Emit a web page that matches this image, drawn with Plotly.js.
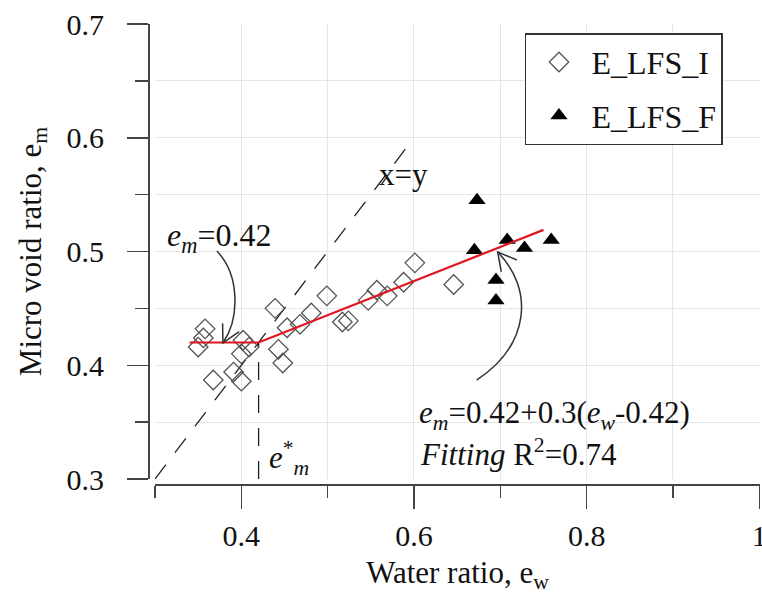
<!DOCTYPE html>
<html>
<head>
<meta charset="utf-8">
<script src="https://cdn.plot.ly/plotly-3.0.1.min.js"></script>
<style>html,body{margin:0;padding:0;background:#fff;}#chart{width:762px;height:604px;}</style>
</head>
<body>
<div id="chart"></div>
<script>
// Data
const lfsI_ew = [0.358, 0.356, 0.350, 0.402, 0.409, 0.400, 0.3675, 0.391, 0.400, 0.439, 0.443, 0.448, 0.453, 0.468, 0.481, 0.499, 0.517, 0.524, 0.547, 0.557, 0.569, 0.588, 0.601, 0.646];
const lfsI_em = [0.432, 0.424, 0.416, 0.422, 0.416, 0.410, 0.387, 0.394, 0.386, 0.450, 0.414, 0.402, 0.433, 0.436, 0.446, 0.461, 0.438, 0.439, 0.457, 0.466, 0.461, 0.473, 0.490, 0.471];
const lfsF_ew = [0.673, 0.670, 0.708, 0.728, 0.759, 0.695, 0.695];
const lfsF_em = [0.545, 0.501, 0.510, 0.503, 0.510, 0.475, 0.457];
const fitX = [0.340, 0.420, 0.750];
const fitY = [0.420, 0.420, 0.519];
const diagX = [0.30, 0.60];
const diagY = [0.30, 0.60];
const emStarX = [0.42, 0.42];
const emStarY = [0.30, 0.42];
const xTickVals = [0.4, 0.6, 0.8, 1];
const xTickText = ['0.4', '0.6', '0.8', '1'];
const yTickVals = [0.3, 0.4, 0.5, 0.6, 0.7];
const yTickText = ['0.3', '0.4', '0.5', '0.6', '0.7'];

const FONT = 'Liberation Serif';
const INK = '#222';

const traces = [
  {x: diagX, y: diagY, mode: 'lines', line: {color: INK, width: 1.3, dash: '18px,15px'}, showlegend: false, hoverinfo: 'skip'},
  {x: emStarX, y: emStarY, mode: 'lines', line: {color: INK, width: 1.3, dash: '18px,15px'}, showlegend: false, hoverinfo: 'skip'},
  {x: lfsI_ew, y: lfsI_em, mode: 'markers', name: 'E_LFS_I', legendgroup: 'a',
   marker: {symbol: 'diamond-open', size: 15, color: '#555', line: {width: 1.3, color: '#555'}}},
  {x: lfsF_ew, y: lfsF_em, mode: 'markers', name: 'E_LFS_F', legendgroup: 'b',
   marker: {symbol: 'triangle-up', size: 15, color: '#000'}},
  {x: fitX, y: fitY, mode: 'lines', line: {color: '#e0141e', width: 2.2}, showlegend: false, hoverinfo: 'skip'}
];

const arrowStyle = {color: '#333', width: 1.5};
const shapes = [
  {type: 'path', xref: 'x', yref: 'y', path: 'M0.3717,0.5004 C0.3983,0.4793 0.3983,0.4415 0.3787,0.4196', line: arrowStyle},
  {type: 'path', xref: 'x', yref: 'y', path: 'M0.3783,0.4369 L0.3787,0.4196 L0.3975,0.4295', line: arrowStyle},
  {type: 'path', xref: 'x', yref: 'y', path: 'M0.6726,0.3870 C0.7339,0.4178 0.7397,0.4662 0.6969,0.4996', line: arrowStyle},
  {type: 'path', xref: 'x', yref: 'y', path: 'M0.7011,0.4822 L0.6969,0.4996 L0.7192,0.4925', line: arrowStyle}
];

const annFont = {family: FONT, size: 31, color: '#111'};
const annotations = [
  {x: 0.588, y: 0.568, xref: 'x', yref: 'y', text: 'x=y', showarrow: false, font: annFont},
  {x: 0.3116, y: 0.5127, xref: 'x', yref: 'y', xanchor: 'left', text: '<i>e</i><sub><i>m</i></sub>=0.42', showarrow: false, font: {family: FONT, size: 32, color: '#111'}},
  {x: 0.455, y: 0.3185, xref: 'x', yref: 'y', text: '<i>e</i><sup>*</sup><sub><i>m</i></sub>', showarrow: false, font: annFont},
  {x: 0.6031, y: 0.3563, xref: 'x', yref: 'y', xanchor: 'left', text: '<i>e</i><sub><i>m</i></sub>=0.42+0.3(<i>e</i><sub><i>w</i></sub>-0.42)', showarrow: false, font: annFont},
  {x: 0.6043, y: 0.3229, xref: 'x', yref: 'y', xanchor: 'left', text: '<i>Fitting</i> R<sup>2</sup>=0.74', showarrow: false, font: annFont}
];

const layout = {
  width: 762, height: 604,
  margin: {l: 148, r: 2, t: 24, b: 120},
  paper_bgcolor: '#fff', plot_bgcolor: '#fff',
  font: {family: FONT, color: '#111', size: 30},
  showlegend: true,
  legend: {x: 0.616, y: 0.98, xanchor: 'left', yanchor: 'top', bgcolor: '#fff',
           bordercolor: '#333', borderwidth: 1.5, font: {family: FONT, size: 32, color: '#111'},
           tracegroupgap: 9, itemwidth: 55},
  xaxis: {
    range: [0.3, 1.0008], domain: [0.01144, 1], anchor: 'free', position: 0,
    showline: true, linecolor: '#444', linewidth: 1.8,
    tickmode: 'array', tickvals: xTickVals, ticktext: xTickText,
    ticks: 'outside', ticklen: 23, tickwidth: 1.5, tickcolor: '#444',
    ticklabelstandoff: 1, ticklabeloverflow: 'allow',
    tickfont: {family: FONT, size: 30, color: '#111'},
    showgrid: true, gridcolor: '#e6e6e6', gridwidth: 1, zeroline: false,
    minor: {dtick: 0.1, tick0: 0.3, ticks: 'outside', ticklen: 12, tickwidth: 1.5, tickcolor: '#444', showgrid: true, gridcolor: '#e6e6e6', gridwidth: 1},
    title: {text: 'Water ratio, e<sub>w</sub>', font: {family: FONT, size: 31, color: '#111'}, standoff: 10}
  },
  yaxis: {
    range: [0.3, 0.7], domain: [0.01087, 1], anchor: 'free', position: 0,
    showline: true, linecolor: '#444', linewidth: 1.8,
    tickmode: 'array', tickvals: yTickVals, ticktext: yTickText,
    ticks: 'outside', ticklen: 21, tickwidth: 1.5, tickcolor: '#444',
    ticklabelstandoff: 17,
    tickfont: {family: FONT, size: 30, color: '#111'},
    showgrid: true, gridcolor: '#e6e6e6', gridwidth: 1, zeroline: false,
    minor: {dtick: 0.05, tick0: 0.3, ticks: 'outside', ticklen: 13, tickwidth: 1.5, tickcolor: '#444', showgrid: true, gridcolor: '#e6e6e6', gridwidth: 1},
    title: {text: 'Micro void ratio, e<sub>m</sub>', font: {family: FONT, size: 31, color: '#111'}, standoff: 14}
  },
  shapes: shapes,
  annotations: annotations
};

Plotly.newPlot('chart', traces, layout, {displayModeBar: false, staticPlot: true});
</script>
</body>
</html>
